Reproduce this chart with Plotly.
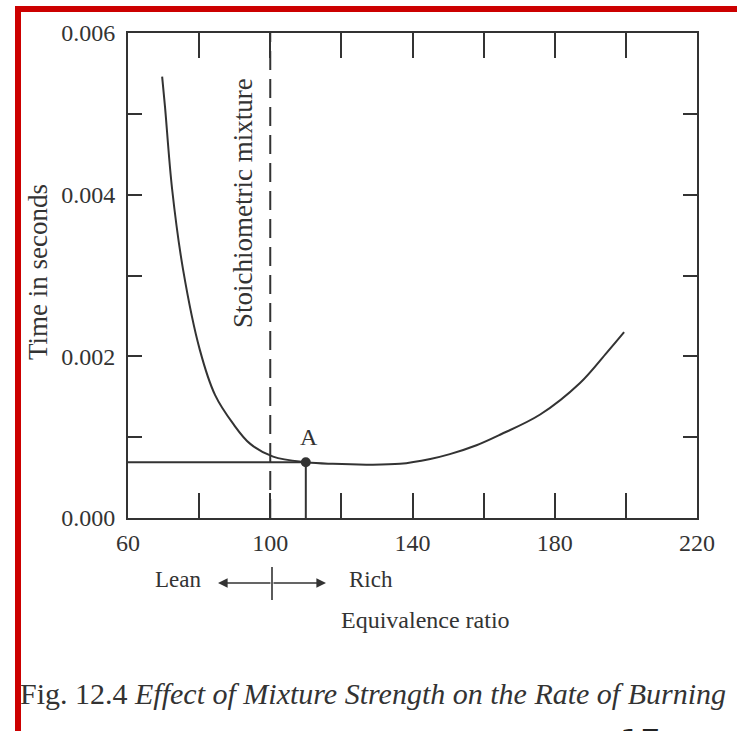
import plotly.graph_objects as go

# ---- data ----
curve_x = [69.6, 70.4, 72.4, 75.5, 80.2, 84.5, 89.5, 94.3, 100.8, 110.3, 117.6, 127.0, 136.5, 145.0,
           150.5, 158.0, 164.6, 175.9, 187.1, 194.7, 199.5]
curve_y = [0.00546, 0.00509, 0.00407, 0.00307, 0.00208, 0.00152, 0.00117, 0.00092, 0.00076, 0.00069,
           0.00067, 0.00066, 0.00067, 0.00073, 0.00079, 0.00090, 0.00103, 0.00128, 0.00167, 0.00205, 0.00230]
point_a = (110, 0.00069)
stoich_x = 100
x_ticklabels = [60, 100, 140, 180, 220]
y_ticklabels = [0.000, 0.002, 0.004, 0.006]

W, H = 737, 731
INK = "#333333"
SERIF = "Liberation Serif, Times New Roman, serif"

fig = go.Figure()

fig.add_trace(go.Scatter(x=curve_x, y=curve_y, mode="lines",
                         line=dict(color=INK, width=2, shape="spline", smoothing=1.0),
                         hoverinfo="skip", showlegend=False))
fig.add_trace(go.Scatter(x=[60, point_a[0]], y=[point_a[1], point_a[1]], mode="lines",
                         line=dict(color=INK, width=2), showlegend=False, hoverinfo="skip"))
fig.add_trace(go.Scatter(x=[point_a[0], point_a[0]], y=[0, point_a[1]], mode="lines",
                         line=dict(color=INK, width=2), showlegend=False, hoverinfo="skip"))
fig.add_trace(go.Scatter(x=[point_a[0]], y=[point_a[1]], mode="markers",
                         marker=dict(color=INK, size=10), showlegend=False, hoverinfo="skip"))

fig.add_shape(type="line", xref="x", yref="y", x0=stoich_x, x1=stoich_x, y0=0, y1=0.006,
              line=dict(color=INK, width=2, dash="19px,9px"))


def px(x):
    return x / W


def py(y):
    return 1 - y / H


# red scan border
fig.add_shape(type="rect", xref="paper", yref="paper", x0=px(15), x1=px(21), y0=py(731), y1=py(6),
              fillcolor="#cc0000", line=dict(width=0), layer="above")
fig.add_shape(type="rect", xref="paper", yref="paper", x0=px(15), x1=px(737), y0=py(12), y1=py(6),
              fillcolor="#cc0000", line=dict(width=0), layer="above")

# Lean / Rich arrows
fig.add_annotation(xref="paper", yref="paper", x=px(218), y=py(583), ax=54, ay=0, axref="pixel", ayref="pixel",
                   text="", showarrow=True, arrowhead=2, arrowsize=1.2, arrowwidth=1.6, arrowcolor=INK)
fig.add_annotation(xref="paper", yref="paper", x=px(326), y=py(583), ax=-54, ay=0, axref="pixel", ayref="pixel",
                   text="", showarrow=True, arrowhead=2, arrowsize=1.2, arrowwidth=1.6, arrowcolor=INK)
fig.add_shape(type="line", xref="paper", yref="paper", x0=px(272), x1=px(272), y0=py(567), y1=py(600),
              line=dict(color=INK, width=1.6))


def txt(text, x, y, size=24, angle=0, xanchor="center"):
    fig.add_annotation(xref="paper", yref="paper", x=px(x), y=py(y), text=text, showarrow=False,
                       textangle=angle, xanchor=xanchor, yanchor="middle",
                       font=dict(family=SERIF, size=size, color=INK))


txt("Lean", 178, 579, size=23)
txt("Rich", 371, 579, size=23)
txt("Equivalence ratio", 425, 620, size=24)
txt("Stoichiometric mixture", 243, 203, size=27, angle=-90)
txt("Time in seconds", 38, 272, size=27, angle=-90)
txt("A", 309, 437)
txt("Fig. 12.4 <i>Effect of Mixture Strength on the Rate of Burning</i>", 18, 693, size=30, xanchor="left")
fig.add_annotation(xref="paper", yref="paper", x=px(640), y=py(720), text="17", showarrow=False,
                   xanchor="center", yanchor="top", font=dict(family="DejaVu Sans", size=32, color="#222"))

axis_common = dict(showline=True, linecolor=INK, linewidth=2, mirror="ticks", ticks="inside",
                   tickcolor=INK, tickwidth=2, showgrid=False, zeroline=False,
                   tickfont=dict(family=SERIF, size=24, color=INK))

fig.update_layout(
    autosize=True, margin=dict(l=0, r=0, t=0, b=0, autoexpand=False),
    paper_bgcolor="#ffffff", plot_bgcolor="#ffffff",
    showlegend=False,
    xaxis=dict(domain=[128 / W, 697 / W], range=[60, 220], tickvals=x_ticklabels,
               ticktext=[str(v) for v in x_ticklabels], ticklen=25, ticklabelstandoff=2,
               minor=dict(dtick=20, tick0=60, ticks="inside", ticklen=25, tickcolor=INK, tickwidth=2),
               **axis_common),
    yaxis=dict(domain=[1 - 518 / H, 1 - 33 / H], range=[0, 0.006], tickvals=y_ticklabels,
               ticktext=[f"{v:.3f}" for v in y_ticklabels], ticklen=14, ticklabelstandoff=6,
               minor=dict(dtick=0.001, tick0=0, ticks="inside", ticklen=14, tickcolor=INK, tickwidth=2),
               **axis_common),
)

fig.write_html("out.html", default_width="100vw", default_height="100vh",
               config={"displayModeBar": False, "responsive": True},
               post_script="document.body.style.margin='0';document.body.style.overflow='hidden';"
                           "window.dispatchEvent(new Event('resize'));")
